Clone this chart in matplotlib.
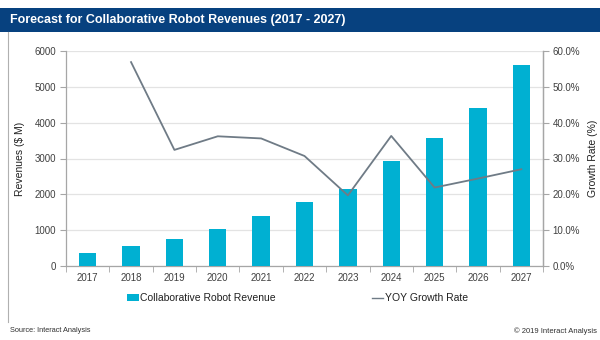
import matplotlib
matplotlib.use('Agg')
import matplotlib.pyplot as plt
from matplotlib.patches import Rectangle, Patch
from matplotlib.lines import Line2D
from matplotlib.ticker import FuncFormatter

plt.rcParams['font.family'] = ['Liberation Sans', 'DejaVu Sans']

# Forecast data
years = ['2017', '2018', '2019', '2020', '2021', '2022',
         '2023', '2024', '2025', '2026', '2027']
revenue = [360, 570, 760, 1030, 1390, 1800, 2150, 2930, 3570, 4420, 5620]
growth_years = years[1:]
growth_rate = [56.9, 32.4, 36.2, 35.6, 30.7, 19.7, 36.3, 21.9, 24.4, 27.0]

BAR_COLOR = '#00B0D2'
LINE_COLOR = '#6F7B86'
AXIS_COLOR = '#A6A6A6'
GRID_COLOR = '#E3E3E3'
TEXT_COLOR = '#404040'

fig = plt.figure(figsize=(6, 3.4), dpi=100)

# header bar with title
fig.patches.append(Rectangle((0, 308/340), 1, 24/340, transform=fig.transFigure,
                             facecolor='#07417F', edgecolor='none', zorder=0))
fig.text(10/600, 320/340, 'Forecast for Collaborative Robot Revenues (2017 - 2027)',
         color='white', fontsize=9, fontweight='bold', va='center', ha='left')
# thin frame line on the left
fig.add_artist(Line2D([8/600, 8/600], [18/340, 308/340], color='#B0B0B0', lw=0.8))

ax = fig.add_axes([66/600, 74/340, 477/600, 215/340])
x = list(range(len(years)))
ax.bar(x, revenue, width=0.4, color=BAR_COLOR, zorder=3)
ax.set_xlim(-0.5, len(years) - 0.5)
ax.set_ylim(0, 6000)
ax.set_yticks(range(0, 6001, 1000))
ax.set_xticks(x)
ax.set_xticklabels(years)
ax.set_xticks([i + 0.5 for i in range(-1, len(years))], minor=True)
ax.tick_params(axis='x', which='major', length=0, pad=5, labelsize=7, labelcolor=TEXT_COLOR)
ax.tick_params(axis='x', which='minor', length=4, color=AXIS_COLOR, direction='out')
ax.tick_params(axis='y', length=4, color=AXIS_COLOR, labelsize=7, labelcolor=TEXT_COLOR, pad=3)
ax.grid(axis='y', color=GRID_COLOR, lw=0.9, zorder=0)
ax.set_axisbelow(True)
for s in ['left', 'bottom', 'right']:
    ax.spines[s].set_color(AXIS_COLOR)
    ax.spines[s].set_linewidth(0.9)
ax.spines['top'].set_visible(False)
ax.set_ylabel('Revenues ($ M)', fontsize=7.5, color='#202020')
ax.yaxis.set_label_coords(-0.087, 0.5)

ax2 = ax.twinx()
ax2.plot([years.index(y) for y in growth_years], growth_rate, color=LINE_COLOR, lw=1.3, zorder=4)
ax2.set_ylim(0, 60)
ax2.set_yticks(range(0, 61, 10))
ax2.yaxis.set_major_formatter(FuncFormatter(lambda v, p: f'{v:.1f}%'))
ax2.tick_params(axis='y', length=4, color=AXIS_COLOR, labelsize=7, labelcolor=TEXT_COLOR, pad=3)
for s in ['left', 'bottom', 'top']:
    ax2.spines[s].set_visible(False)
ax2.spines['right'].set_color(AXIS_COLOR)
ax2.spines['right'].set_linewidth(0.9)
ax2.set_ylabel('Growth Rate (%)', fontsize=7.5, color='#202020')
ax2.yaxis.set_label_coords(1.094, 0.5)

handles = [Patch(facecolor=BAR_COLOR, edgecolor='none'),
           Line2D([], [], color=LINE_COLOR, lw=1.0)]
fig.legend(handles, ['Collaborative Robot Revenue', 'YOY Growth Rate'],
           loc='center', bbox_to_anchor=(0.496, 42/340), ncol=2, frameon=False,
           fontsize=7.5, handlelength=1.1, handleheight=0.6, handletextpad=0.15,
           columnspacing=9.2, labelcolor='#202020')

fig.text(10/600, 9/340, 'Source: Interact Analysis', fontsize=5.3, color='#303030',
         va='center', ha='left')
fig.text(597/600, 9/340, '\u00a9 2019 Interact Analysis', fontsize=5.5, color='#303030',
         va='center', ha='right')

fig.savefig('out.png', dpi=100)
